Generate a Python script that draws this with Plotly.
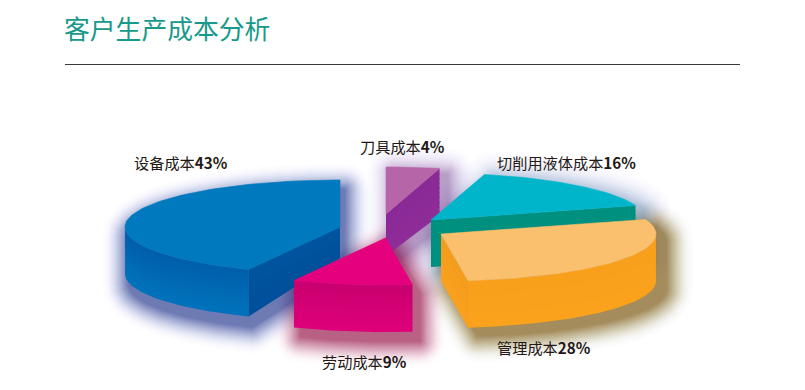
import numpy as np
import plotly.graph_objects as go

# ---- data ----
TITLE = "客户生产成本分析"
categories = ["设备成本", "劳动成本", "管理成本", "切削用液体成本", "刀具成本"]
values = [43, 9, 28, 16, 4]

# ---- layout / styling, per category ----
START_ANGLE = 90.0
RX, RY, DEPTH = 215.0, 47.0, 47.0
apex = [(340, 227), (385.5, 238), (441, 234), (431, 220), (386, 214)]
apex_depth = [31, 47, 47, 47, 42]
top_color = ["#0079BF", "#E5007D", "#FAC06E", "#00B5CA", "#B565A8"]
wall_colors = [("#005FAB", "#0072BC"), ("#C9006F", "#DE0079"), ("#F8A01C", "#FAA21C"),
               ("#00907F", "#00907F"), ("#8A2A96", "#8A2A96")]
face_colors = [("#00559F", "#004F9A"), ("#C9006F", "#DE0079"), ("#F59C1C", "#F9A21E"),
               ("#00907F", "#00907F"), ("#8A2A96", "#8E2C98")]
glow_color = ["15,40,130", "150,15,70", "125,85,10", "70,125,165", "110,55,135"]
glow_alpha = [0.075, 0.085, 0.09, 0.04, 0.05]
glow_shift = [(4, 10), (7, 9), (10, 8), (8, 4), (8, 6)]
glow_radii = np.arange(28, 0, -1.0)
draw_order = [0, 4, 3, 1, 2]
label_pos = [(132, 162), (320, 361), (495, 347), (495, 162), (358, 146)]

fig = go.Figure()


def pt(c, t):
    a = np.radians(t)
    return c[0] + RX * np.cos(a), c[1] - RY * np.sin(a)


def arc(c, t1, t2):
    n = max(2, int(abs(t2 - t1) / 1.5) + 2)
    ts = np.linspace(t1, t2, n)
    return [pt(c, t) for t in ts]


def poly(points, fill, width=0.6):
    xs = [p[0] for p in points] + [points[0][0]]
    ys = [p[1] for p in points] + [points[0][1]]
    fig.add_trace(go.Scatter(x=xs, y=ys, mode="lines", fill="toself", fillcolor=fill,
                             line=dict(color=fill, width=width),
                             hoverinfo="skip", showlegend=False))


def mix(a, b, f):
    ca = [int(a[i:i + 2], 16) for i in (1, 3, 5)]
    cb = [int(b[i:i + 2], 16) for i in (1, 3, 5)]
    return "rgb(%d,%d,%d)" % tuple(round(x + (y - x) * f) for x, y in zip(ca, cb))


def wall(top_pts, colors, i, bands=10):
    def depth(p):
        return apex_depth[i] if p == apex[i] else DEPTH
    for b in range(bands):
        f0, f1 = b / bands, (b + 1.3) / bands if b < bands - 1 else 1
        pts = [(p[0], p[1] + depth(p) * f0) for p in top_pts] + \
              [(p[0], p[1] + depth(p) * f1) for p in reversed(top_pts)]
        poly(pts, mix(colors[0], colors[1], b / (bands - 1)), 0)


def hull(points):
    pts = sorted(set(points))
    def half(seq):
        out = []
        for p in seq:
            while len(out) > 1 and (out[-1][0] - out[-2][0]) * (p[1] - out[-2][1]) - \
                    (out[-1][1] - out[-2][1]) * (p[0] - out[-2][0]) <= 0:
                out.pop()
            out.append(p)
        return out[:-1]
    return half(pts) + half(pts[::-1])


# angular extents come from the values
sweeps = np.array(values) / sum(values) * 360.0
ends = START_ANGLE + np.cumsum(sweeps)
starts = ends - sweeps

# soft glows: the slice outline grown by a round pen, fading outward
pen = [(np.cos(a), np.sin(a)) for a in np.linspace(0, 2 * np.pi, 16, endpoint=False)]
R = glow_radii.max() + 1
for r in glow_radii:
    for i in draw_order:
        c = apex[i]
        top = [c] + arc(c, starts[i], ends[i])
        base = hull(top + [(p[0], p[1] + (apex_depth[i] if p == c else DEPTH)) for p in top])
        sx, sy = glow_shift[i]
        grown = [(x + sx + r * u, y + sy + r * v) for x, y in base for u, v in pen]
        alpha = glow_alpha[i] * (1 - r / R) ** 1.6 + 0.002
        poly(hull(grown), f"rgba({glow_color[i]},{alpha:.4f})", 0)

# slices, back to front
for i in draw_order:
    c, t1, t2 = apex[i], starts[i], ends[i]
    # flat radial cut faces turned towards the viewer
    if np.sin(np.radians(t1 - 90)) < 0:
        wall([c, pt(c, t1)], face_colors[i], i)
    if np.sin(np.radians(t2 + 90)) < 0:
        wall([c, pt(c, t2)], face_colors[i], i)
    # outer wall: only the front half of the rim shows
    for k in (0, 1):
        a, b = max(t1, 180 + 360 * k), min(t2, 360 + 360 * k)
        if b > a:
            wall(arc(c, a, b), wall_colors[i], i)
    poly([c] + arc(c, t1, t2), top_color[i])

annotations = [dict(x=62, y=27, xref="x", yref="y", text=TITLE, showarrow=False, xanchor="left",
                    yanchor="middle", font=dict(size=25.8, color="#17998C",
                                                family="Noto Sans CJK SC"))]
for name, v, (x, y) in zip(categories, values, label_pos):
    annotations.append(dict(x=x, y=y, xref="x", yref="y",
                            text=f"{name}<b>{v}%</b>", showarrow=False,
                            xanchor="left", yanchor="middle",
                            font=dict(size=15.2, color="#231815", family="Noto Sans CJK SC")))

fig.update_layout(
    width=805, height=390, margin=dict(l=0, r=0, t=0, b=0),
    paper_bgcolor="white", plot_bgcolor="white", showlegend=False,
    xaxis=dict(range=[0, 805], visible=False, fixedrange=True),
    yaxis=dict(range=[390, 0], visible=False, fixedrange=True),
    annotations=annotations,
    shapes=[dict(type="line", xref="x", yref="y", x0=65, x1=740, y0=64.5, y1=64.5,
                 line=dict(color="#3A3A3A", width=1))],
)
fig.write_html("out.html", config={"displayModeBar": False},
               post_script="document.body.style.margin='0';")
